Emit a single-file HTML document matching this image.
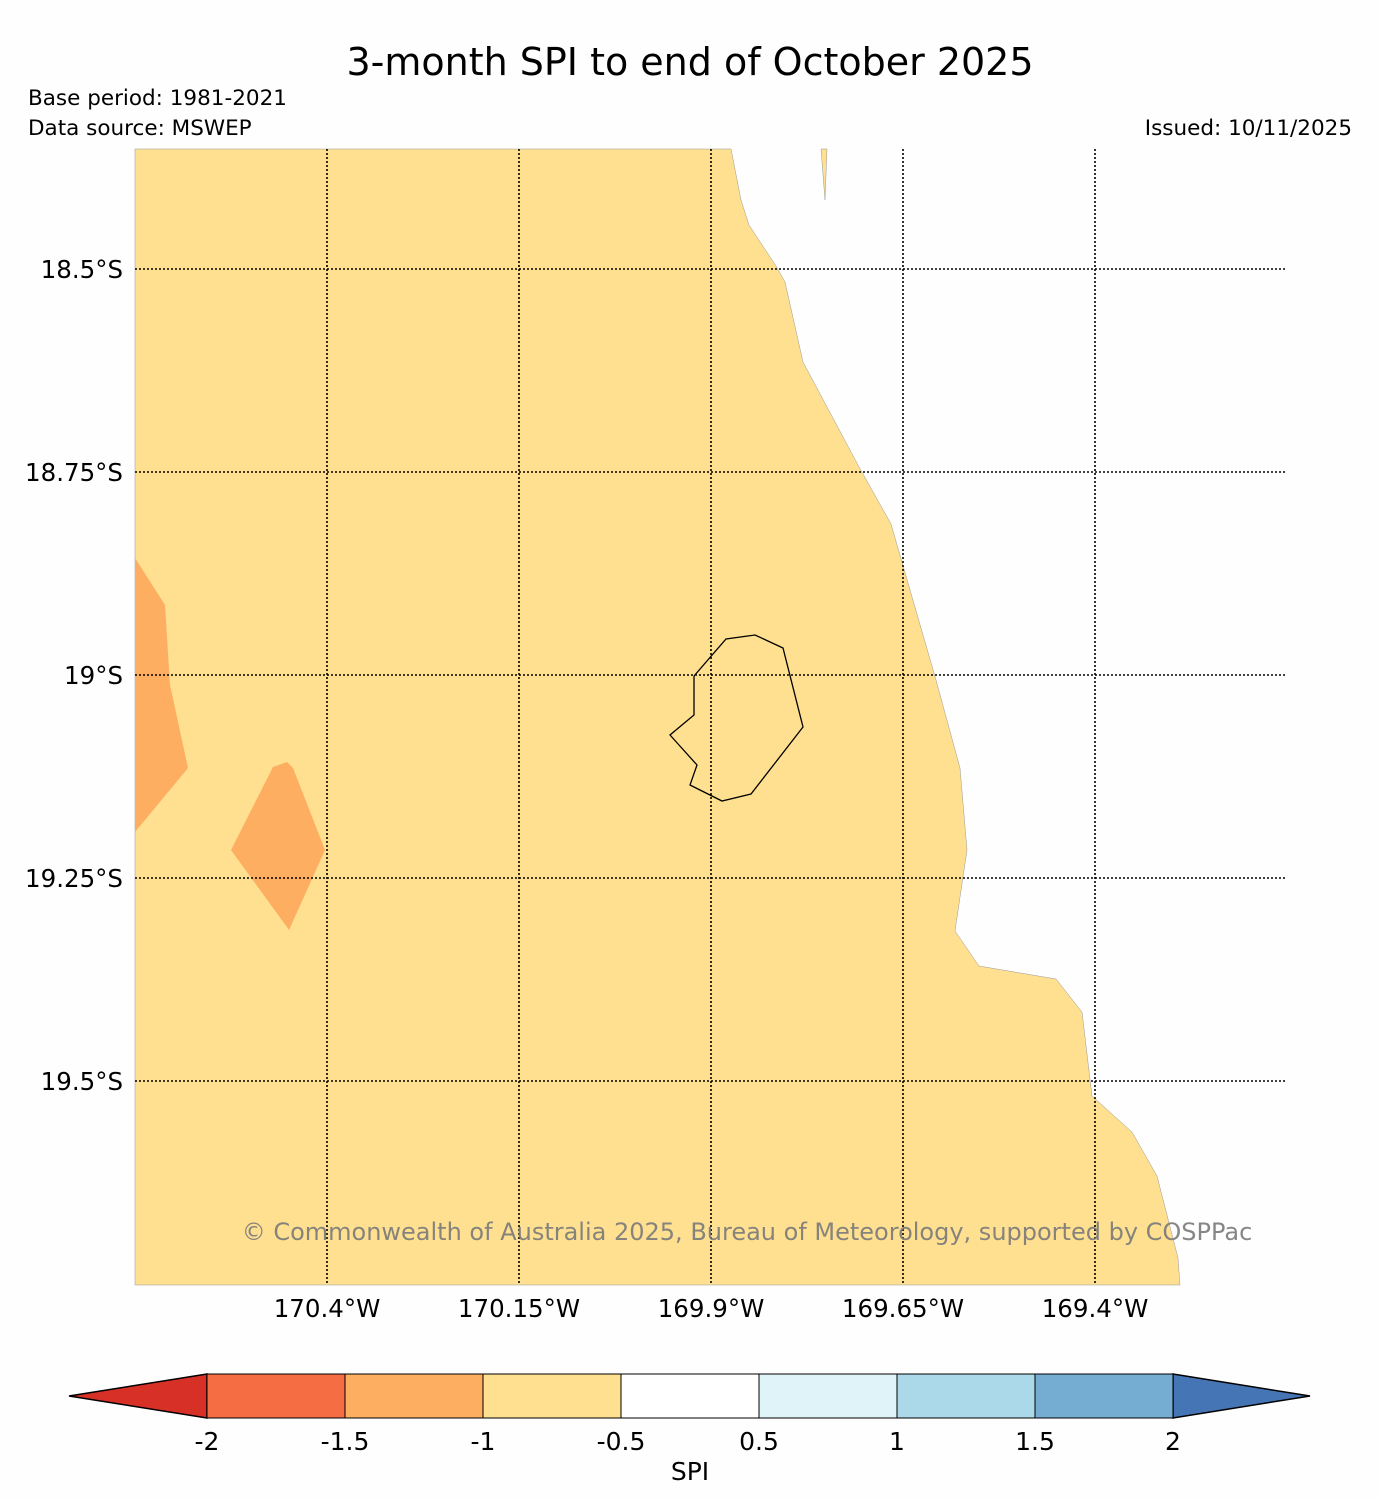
<!DOCTYPE html>
<html><head><meta charset="utf-8">
<style>
html,body{margin:0;padding:0;background:#fefefe;}
body{width:1380px;height:1494px;overflow:hidden;font-family:"Liberation Sans","DejaVu Sans",sans-serif;}
</style></head>
<body>
<svg id="chart" width="1380" height="1494" viewBox="0 0 1380 1494" xmlns="http://www.w3.org/2000/svg" font-family="DejaVu Sans, Liberation Sans, sans-serif">
<rect width="1380" height="1494" fill="#fefefe"/>
<text x="690" y="75" font-size="38" text-anchor="middle" fill="#000">3-month SPI to end of October 2025</text>
<text x="28" y="105" font-size="21.5" fill="#000">Base period: 1981-2021</text>
<text x="28" y="135" font-size="21.5" fill="#000">Data source: MSWEP</text>
<text x="1352" y="135" font-size="21.5" text-anchor="end" fill="#000">Issued: 10/11/2025</text>

<g>
<rect x="135" y="149" width="1150" height="1136" fill="#fefefe"/>
<polygon fill="#fee090" stroke="#999" stroke-width="0.5" points="135,149 731,149 741,200 749,225 776,266 785,282 803,362 858,465 891,524 936,680 960,768 967,850 955,931 979,966 1056,979 1082,1012 1092,1096 1132,1132 1157,1176 1178,1258 1180,1285 135,1285"/>
<polygon fill="#fee090" stroke="#999" stroke-width="0.5" points="821,149 827,149 825,200"/>
<polygon fill="#fdae61" points="135,558 165,605 170,685 188,768 135,832"/>
<polygon fill="#fdae61" points="231,850 273,767 287,762 293,768 325,850 289,930"/>
<polyline fill="none" stroke="#000" stroke-width="1.3" points="694,676 726,639 755,635 783,648 803,727 751,794 722,801 690,785 697,765 670,735 694,715 694,676"/>
<g id="grid" stroke="#000" stroke-width="1.6" stroke-dasharray="2,2"></g>
<text x="747" y="1240" font-size="24" text-anchor="middle" fill="#7a7a7a" opacity="0.9">© Commonwealth of Australia 2025, Bureau of Meteorology, supported by COSPPac</text>
</g>
<g id="labels" font-size="24.5" fill="#000"></g>
<g id="colorbar"></g>
<text x="690" y="1480" font-size="25" text-anchor="middle">SPI</text>
</svg>
<script>
const lonTicks = [-170.4, -170.15, -169.9, -169.65, -169.4];
const lonLabels = ["170.4°W","170.15°W","169.9°W","169.65°W","169.4°W"];
const latTicks = [-18.5, -18.75, -19.0, -19.25, -19.5];
const latLabels = ["18.5°S","18.75°S","19°S","19.25°S","19.5°S"];
const cbBounds = [-2, -1.5, -1, -0.5, 0.5, 1, 1.5, 2];
const cbLabels = ["-2","-1.5","-1","-0.5","0.5","1","1.5","2"];
const cbColors = ["#f46d43","#fdae61","#fee090","#ffffff","#e0f3f8","#abd9e9","#74add1"];
const ns = "http://www.w3.org/2000/svg";
const xOf = lon => 327 + (lon + 170.4) / 0.25 * 192;
const yOf = lat => 269 + (-18.5 - lat) / 0.25 * 203;
const grid = document.getElementById('grid'), labels = document.getElementById('labels');
lonTicks.forEach((lon, i) => {
  const x = xOf(lon);
  const l = document.createElementNS(ns, 'line');
  l.setAttribute('x1', x); l.setAttribute('x2', x); l.setAttribute('y1', 149); l.setAttribute('y2', 1285);
  
  
  grid.appendChild(l);
  const t = document.createElementNS(ns, 'text');
  t.setAttribute('x', x); t.setAttribute('y', 1317); t.setAttribute('text-anchor', 'middle');
  t.textContent = lonLabels[i];
  
  
  labels.appendChild(t);
});
latTicks.forEach((lat, i) => {
  const y = yOf(lat);
  const l = document.createElementNS(ns, 'line');
  l.setAttribute('x1', 135); l.setAttribute('x2', 1285); l.setAttribute('y1', y); l.setAttribute('y2', y);
  
  
  grid.appendChild(l);
  const t = document.createElementNS(ns, 'text');
  t.setAttribute('x', 123); t.setAttribute('y', y + 9); t.setAttribute('text-anchor', 'end');
  t.textContent = latLabels[i];
  
  
  labels.appendChild(t);
});
const cb = document.getElementById('colorbar');
const x0 = 207, w = 138, y0 = 1374, h = 44;
const cx = i => x0 + i * w;
const left = document.createElementNS(ns, 'polygon');
left.setAttribute('points', `${cx(0)},${y0} ${cx(0)},${y0+h} 69,${y0+h/2}`);
left.setAttribute('fill', '#d73027'); left.setAttribute('stroke', '#000'); left.setAttribute('stroke-width', '1.5');


cb.appendChild(left);
const n = cbBounds.length - 1;
const right = document.createElementNS(ns, 'polygon');
right.setAttribute('points', `${cx(n)},${y0} ${cx(n)},${y0+h} 1310,${y0+h/2}`);
right.setAttribute('fill', '#4575b4'); right.setAttribute('stroke', '#000'); right.setAttribute('stroke-width', '1.5');


cb.appendChild(right);
cbColors.forEach((c, i) => {
  const r = document.createElementNS(ns, 'rect');
  r.setAttribute('x', cx(i)); r.setAttribute('y', y0); r.setAttribute('width', w); r.setAttribute('height', h);
  r.setAttribute('fill', c); r.setAttribute('stroke', '#000'); r.setAttribute('stroke-width', '1');
  
  
  cb.appendChild(r);
});
cbLabels.forEach((lab, i) => {
  const t = document.createElementNS(ns, 'text');
  t.setAttribute('x', cx(i)); t.setAttribute('y', 1450); t.setAttribute('text-anchor', 'middle'); t.setAttribute('font-size', '25');
  t.textContent = lab;
  
  
  cb.appendChild(t);
});
</script>
</body></html>
